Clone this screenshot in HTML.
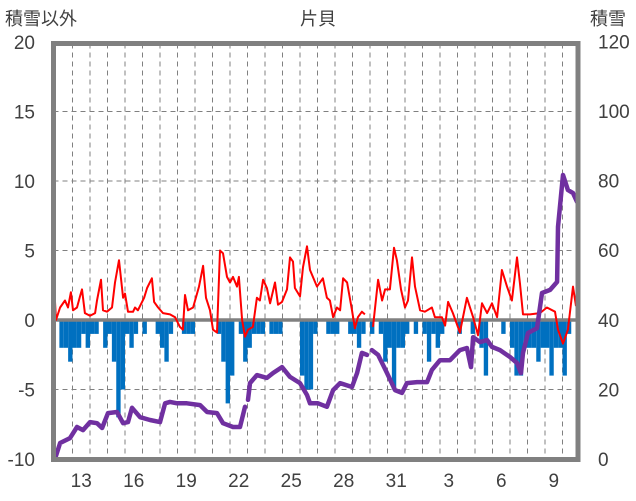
<!DOCTYPE html>
<html><head><meta charset="utf-8"><style>
body{margin:0;background:#fff}
svg{display:block}
text{font-family:"Liberation Sans","Noto Sans CJK JP",sans-serif;fill:#404040}
</style></head><body>
<svg id="c" width="636" height="501" viewBox="0 0 636 501"></svg>
<script>
const leftTicks=[-10,-5,0,5,10,15,20];
const rightTicks=[0,20,40,60,80,100,120];
const dayLabels=["13","16","19","22","25","28","31","3","6","9"];
const dayLabelIdx=[1,4,7,10,13,16,19,22,25,28];
const tempT=[0,0.06,0.29,0.57,0.74,0.91,1.03,1.26,1.43,1.54,1.71,2.0,2.29,2.4,2.63,2.74,2.97,3.26,3.43,3.66,3.89,4.0,4.17,4.46,4.57,4.74,5.09,5.26,5.54,5.66,5.89,6.17,6.57,6.86,7.14,7.31,7.43,7.6,7.89,8.23,8.46,8.63,8.86,9.03,9.26,9.43,9.6,9.83,10.0,10.17,10.4,10.51,10.69,10.86,11.03,11.31,11.54,11.71,11.89,12.11,12.29,12.57,12.74,12.97,13.26,13.43,13.6,13.71,14.0,14.17,14.4,14.57,14.97,15.31,15.54,15.71,15.89,16.11,16.29,16.46,16.69,16.97,17.14,17.31,17.54,17.71,17.9,18.17,18.46,18.69,18.86,19.14,19.37,19.54,19.77,20.0,20.17,20.4,20.57,20.86,21.14,21.54,21.71,22.11,22.29,22.46,22.74,23.14,23.54,23.89,24.17,24.4,24.69,24.97,25.26,25.54,25.83,26.11,26.4,26.57,26.74,27.14,27.71,28.11,28.57,28.74,29.03,29.31,29.6,29.77];
const tempV=[1.3,0,0.9,1.4,0.9,2.0,0.7,0.9,1.7,2.2,0.5,0.3,0.5,1.4,2.9,0.7,0.6,0.9,2.7,4.3,1.6,1.9,0.6,0.6,0.9,0.7,1.6,2.3,3.0,1.3,0.9,0.5,0.4,0.2,-0.5,-0.7,1.8,0.7,0.9,2.4,3.9,1.6,0.7,-0.7,-0.9,5.0,4.8,3.1,2.7,3.1,2.4,3.1,0,-1.2,-0.7,-0.5,1.6,1.4,2.9,2.3,1.2,2.7,1.1,1.3,2.2,4.5,4.2,2.3,1.7,3.8,5.3,3.6,2.4,3.0,1.6,1.4,0.2,0.9,0.7,3.0,2.7,0.7,-0.6,0.2,0.6,0.4,null,-0.5,2.9,1.4,2.2,2.2,5.2,4.3,2.2,0.9,1.4,4.5,2.4,0.7,0.6,0.9,0.2,0.2,-0.4,1.3,0.5,-0.9,1.6,0.2,-1.1,1.2,0.5,1.2,0.2,3.6,2.4,1.4,4.5,2.6,0.4,0.4,0.5,0.9,0.6,-0.7,-1.7,-0.7,2.4,1.0];
const snowT=[0,0.29,0.86,1.26,1.6,2.0,2.4,2.69,3.03,3.54,3.89,4.17,4.4,4.86,5.43,6.0,6.29,6.57,6.97,7.54,8.29,8.69,9.26,9.6,10.17,10.57,10.86,10.95,11.03,11.14,11.54,12.11,12.46,12.97,13.43,14.0,14.4,14.57,15.03,15.54,15.89,16.29,16.97,17.26,17.54,17.83,17.97,18.11,18.46,18.97,19.43,19.83,20.11,20.69,21.26,21.54,22.0,22.57,23.14,23.54,23.77,23.89,24.29,24.69,24.97,25.43,26.0,26.4,26.63,26.74,27.03,27.54,27.83,28.29,28.69,28.74,29.03,29.31,29.6,29.83];
const snowV=[0,4.6,6,9.2,8.3,10.6,10.3,8.9,13.2,13.5,10.3,10.6,14.7,12,11.2,10.6,16,16.4,16,16,15.5,13.5,13.2,10.3,9.2,9.2,15,null,17,21.8,24.1,23.3,24.7,26.4,23.6,21.8,18.4,16,16,15,19.8,21.8,20.7,24.7,30.5,29.9,null,31.3,29.9,24.7,19.8,19,21.8,22.1,22.1,25.6,28.4,28.4,31.3,31.9,26.4,35,33.6,34.2,32.2,31.3,29.3,27.6,24.7,30.5,36.2,37.6,47.7,48.6,50.9,66.7,81.6,77.3,76.4,73.9];
const barV=[0,-2,-2,-3,-2,-2,-1,-2,-1,-1,0,-2,-1,-3,-7,-5,-1,-2,-1,0,-1,0,0,-1,-2,-3,-1,0,0,-1,-1,-1,0,0,0,0,0,-1,-3,-6,-4,0,-1,-3,-2,-1,-1,-1,0,-1,-1,-1,0,0,0,0,-4,-5,-5,-1,0,0,-1,-1,-1,0,0,-1,-1,-2,-1,0,-1,0,-1,-3,-2,-5,-2,-2,-1,0,-1,0,-1,-3,-1,-2,-1,0,0,0,-1,0,0,-1,0,-2,-4,0,0,0,-1,0,-2,-4,-4,-2,-2,-2,-3,-2,-2,-4,-2,-2,-4,-1];
const barStep=0.25;

const NS="http://www.w3.org/2000/svg";
const svg=document.getElementById('c');
const X0=55,DAY=17.5,L=53.5,R=578,T=43.5,B=459.5;
const xS=t=>X0+t*DAY;
const yL=v=>320-v*13.9;
const yR=v=>459-v*3.48;
function mk(tag,a){const e=document.createElementNS(NS,tag);for(const k in a)e.setAttribute(k,a[k]);svg.appendChild(e);return e;}
// grid
for(let d=1;d<30;d++){const g=mk('line',{x1:xS(d),x2:xS(d),y1:T,y2:B,stroke:'#808080','stroke-width':1,'stroke-dasharray':'5,4'});

}
leftTicks.forEach(v=>{if(v>-10&&v<20&&v!==0){const g=mk('line',{x1:L,x2:R,y1:yL(v),y2:yL(v),stroke:'#808080','stroke-width':1,'stroke-dasharray':'5,4'});

}});
// bars
barV.forEach((v,i)=>{if(v<0){const r=mk('rect',{x:xS(i*barStep),y:yL(0),width:DAY*barStep,height:yL(v)-yL(0),fill:'#0070C0'});

}});
// zero line
const z=mk('line',{x1:L,x2:R,y1:yL(0),y2:yL(0),stroke:'#808080','stroke-width':3.5});


function path(ts,vs,f){let d='',pen=false;ts.forEach((t,i)=>{const v=vs[i];if(v===null){pen=false;return;}d+=(pen?'L':'M')+xS(t).toFixed(1)+','+f(v).toFixed(1);pen=true;});return d;}
const red=mk('path',{d:path(tempT,tempV,yL),fill:'none',stroke:'#FF0000','stroke-width':2,'stroke-linejoin':'round'});


const pur=mk('path',{d:path(snowT,snowV,yR),fill:'none',stroke:'#7030A0','stroke-width':4.5,'stroke-linejoin':'round','stroke-linecap':'round'});


// border
const bd=mk('rect',{x:L,y:T,width:R-L,height:B-T,fill:'none',stroke:'#808080','stroke-width':5});


// labels
function tx(s,x,y,anc,size,name){const e=mk('text',{x:x,y:y,'text-anchor':anc,'font-size':size});e.textContent=s;

return e;}
leftTicks.forEach(v=>tx(String(v),35,yL(v)+7,'end',19,'left-tick-label'));
rightTicks.forEach(v=>tx(String(v),598,yR(v)+7,'start',19,'right-tick-label'));
dayLabels.forEach((s,i)=>tx(s,xS(dayLabelIdx[i]+0.5),487,'middle',19,'x-tick-label'));
tx('積雪以外',5,25,'start',18,'left-axis-title');
tx('片貝',318,25,'middle',18,'chart-title');
tx('積雪',590,25,'start',18,'right-axis-title');
</script>
</body></html>
